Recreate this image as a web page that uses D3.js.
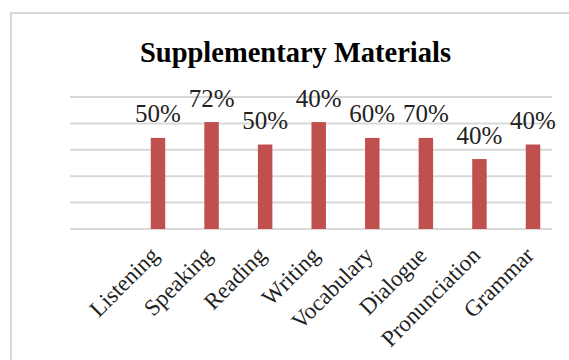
<!DOCTYPE html>
<html>
<head>
<meta charset="utf-8">
<script src="https://cdn.jsdelivr.net/npm/d3@7"></script>
<style>
  html, body { margin: 0; padding: 0; background: #fff; }
  svg { display: block; }
  text { font-family: "Liberation Serif", "DejaVu Serif", serif; }
</style>
</head>
<body>
<svg id="chart"></svg>
<script>
// chart data
const categories = ['Listening', 'Speaking', 'Reading', 'Writing', 'Vocabulary', 'Dialogue', 'Pronunciation', 'Grammar'];
const barValues = [69, 81, 64, 81, 69, 69, 53, 64];
const barLabels = ['50%', '72%', '50%', '40%', '60%', '70%', '40%', '40%'];
const gridTicks = [0, 20, 40, 60, 80, 100];

document.addEventListener('DOMContentLoaded', function () {
    const svg = d3.select('#chart')
        .attr('width', 569)
        .attr('height', 360);

    // outer chart frame (runs off the right and bottom edge)
    svg.append('rect')
        .attr('x', 11)
        .attr('y', 13)
        .attr('width', 620)
        .attr('height', 420)
        .attr('fill', 'none')
        .attr('stroke', '#d9d9d9')
        .attr('stroke-width', 2);

    svg.append('text')
        .attr('x', 295.5)
        .attr('y', 62)
        .attr('text-anchor', 'middle')
        .attr('font-size', 28.5)
        .attr('font-weight', 'bold')
        .attr('fill', '#000')
        .text('Supplementary Materials');

    const xScale = d3.scaleBand()
        .domain(categories)
        .range([131.2, 559.8])
        .paddingInner(0.73)
        .paddingOuter(0.365);

    const yScale = d3.scaleLinear()
        .domain([0, 100])
        .range([229, 97]);

    // gridlines
    svg.append('g')
        .selectAll('line')
        .data(gridTicks)
        .enter()
        .append('line')
        .attr('x1', 70)
        .attr('x2', 552)
        .attr('y1', d => yScale(d))
        .attr('y2', d => yScale(d))
        .attr('stroke', '#d9d9d9')
        .attr('stroke-width', 2);

    // bars
    svg.append('g')
        .selectAll('rect')
        .data(barValues)
        .enter()
        .append('rect')
        .attr('x', (d, i) => xScale(categories[i]))
        .attr('y', d => yScale(d))
        .attr('width', xScale.bandwidth())
        .attr('height', d => yScale(0) - yScale(d))
        .attr('fill', '#c0504d');

    // data labels
    svg.append('g')
        .selectAll('text')
        .data(barValues)
        .enter()
        .append('text')
        .attr('x', (d, i) => xScale(categories[i]) + xScale.bandwidth() / 2)
        .attr('y', d => yScale(d) - 15.5)
        .attr('text-anchor', 'middle')
        .attr('font-size', 25)
        .attr('fill', '#222')
        .text((d, i) => barLabels[i]);

    // category labels, rotated
    svg.append('g')
        .selectAll('text')
        .data(categories)
        .enter()
        .append('text')
        .attr('transform', d => `translate(${xScale(d) + xScale.bandwidth() / 2 - 3.5},251) rotate(-45)`)
        .attr('dy', '0.35em')
        .attr('text-anchor', 'end')
        .attr('font-size', 23)
        .attr('fill', '#222')
        .text(d => d);
});
</script>
</body>
</html>
